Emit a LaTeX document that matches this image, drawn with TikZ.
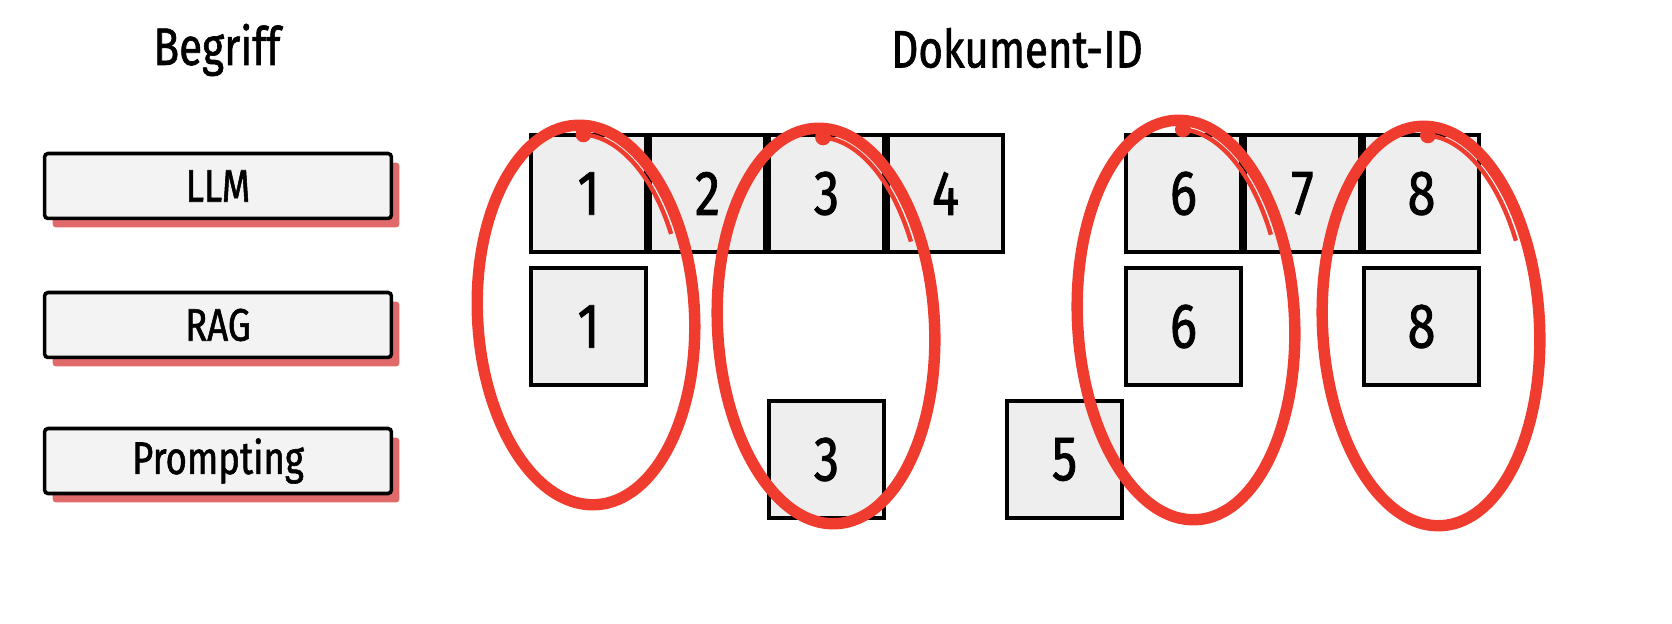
\documentclass[tikz,border=0pt]{standalone}
\usepackage{fontspec}
\setmainfont{Fira Sans}[FakeStretch=0.8, FakeBold=1.2]
\usepackage{xcolor}
\usepackage{tikz}

\definecolor{boxgray}{HTML}{EEEEEE}
\definecolor{termgray}{HTML}{F3F3F3}
\definecolor{ringred}{HTML}{F03C2E}
\definecolor{shadowred}{HTML}{E06A6A}

\begin{document}
\begin{tikzpicture}[
      x=0.02cm, y=-0.02cm,
      header/.style={font=\fontsize{30}{34}\selectfont},
      term/.style={draw=black, line width=2pt, fill=termgray, rounded corners=2pt,
        minimum width=6.94cm, minimum height=1.3cm, font=\fontsize{26}{30}\selectfont},
      termshadow/.style={fill=shadowred, rounded corners=2pt,
        minimum width=6.94cm, minimum height=1.3cm},
      doc/.style={draw=black, line width=1.8pt, fill=boxgray, inner sep=0pt,
        minimum width=2.3cm, minimum height=2.34cm, font=\fontsize{36}{40}\selectfont},
      ring/.style={draw=ringred, line width=6.5pt}
    ]
    \useasboundingbox (0,0) rectangle (1672,624);

    % headers
    \node[header] (begriff) at (217,50) {Begriff};
    \node[header] (dokid) at (1017,48) {Dokument-ID};

    % terms with shadow
    \node[termshadow] (llmshadow) at (226,195) {};
    \node[term] (llm) at (218,186) {LLM};
    \node[termshadow] (ragshadow) at (226,334) {};
    \node[term] (rag) at (218,325) {RAG};
    \node[termshadow] (promptshadow) at (226,470) {};
    \node[term] (prompt) at (218,461) {Prompting};

    % document ids
    \foreach \c in {1,2,3,4,6,7,8}
      \node[doc] (top\c) at ({588.5+119*(\c-1)},193.5) {\c};
    \foreach \c in {1,6,8}
      \node[doc] (mid\c) at ({588.5+119*(\c-1)},326.5) {\c};
    \foreach \c in {3,5}
      \node[doc] (low\c) at ({588.5+119*(\c-1)},459.5) {\c};

    % red rings
    \foreach \cx/\cy/\ry/\iry in {586/315/3.8/3.62, 826/326/3.96/3.78,
                                  1186/320/4.0/3.82, 1431/326/4.0/3.82} {
      \begin{scope}[shift={(\cx,\cy)}, rotate=3]
        \draw[ring] (0,0) ellipse [x radius=2.17cm, y radius=\ry cm];
        \draw[ring, line width=2.5pt] plot[domain=25:86, smooth, samples=20]
          ({1.97cm*cos(\x)}, {\iry cm*sin(\x)});
        \fill[ringred] ({1.97cm*cos(86)}, {\iry cm*sin(86)}) circle (4.5pt);
      \end{scope}
    }
\end{tikzpicture}
\end{document}
